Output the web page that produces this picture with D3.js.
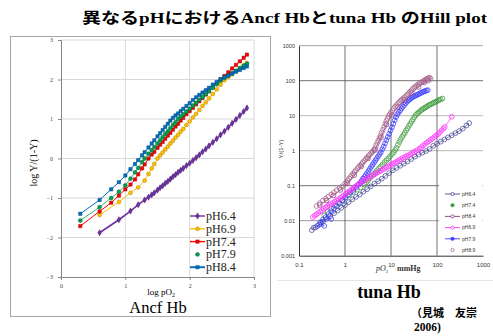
<!DOCTYPE html>
<html>
<head>
<meta charset="utf-8">
<script src="https://cdn.jsdelivr.net/npm/d3@7"></script>
<style>
  body { margin: 0; background: #fff; }
  svg { display: block; }
</style>
</head>
<body>
<div id="chart"></div>
<script>
// ---- Ancf Hb (left panel): log pO2 vs log Y/(1-Y)
var ancfLogPO2 = [0.30,0.60,0.78,0.90,1.00,1.08,1.15,1.20,1.26,1.30,1.36,1.41,1.45,1.50,1.54,1.58,1.62,1.66,1.70,1.74,1.78,1.82,1.86,1.90,1.95,2.00,2.05,2.10,2.15,2.20,2.25,2.30,2.36,2.42,2.48,2.54,2.60,2.66,2.72,2.78,2.84,2.89];
var ancfPH64 = [null,-1.88,null,-1.55,null,-1.33,null,-1.17,null,-1.05,-0.98,-0.92,-0.87,-0.80,-0.74,-0.69,-0.63,-0.58,-0.52,-0.46,-0.41,-0.35,-0.30,-0.25,-0.18,-0.12,-0.05,0.02,0.09,0.17,0.24,0.32,0.41,0.50,0.60,0.69,0.79,0.89,0.99,1.09,1.19,1.28];
var ancfPH69 = [null,-1.43,null,-1.10,null,-0.87,null,-0.73,null,-0.56,-0.39,-0.25,-0.14,0.00,0.08,0.15,0.23,0.30,0.38,0.45,0.53,0.60,0.68,0.75,0.85,0.94,1.04,1.13,1.23,1.33,1.42,1.52,1.63,1.75,1.87,1.98,2.06,2.13,2.21,2.28,2.36,2.42];
var ancfPH74 = [-1.71,-1.34,-1.12,-0.94,-0.78,-0.66,-0.53,-0.40,-0.25,-0.15,0.00,0.10,0.17,0.27,0.35,0.42,0.50,0.58,0.65,0.73,0.81,0.88,0.96,1.03,1.12,1.20,1.28,1.37,1.45,1.53,1.62,1.70,1.80,1.90,2.00,2.09,2.18,2.28,2.37,2.46,2.55,2.63];
var ancfPH79 = [-1.57,-1.23,-1.00,-0.84,-0.68,-0.51,-0.35,-0.24,-0.09,0.00,0.12,0.21,0.29,0.38,0.46,0.54,0.62,0.69,0.77,0.85,0.92,1.00,1.06,1.12,1.19,1.26,1.34,1.41,1.49,1.56,1.63,1.71,1.79,1.88,1.97,2.04,2.10,2.16,2.22,2.29,2.35,2.40];
var ancfPH84 = [-1.40,-1.05,-0.78,-0.60,-0.43,-0.27,-0.14,-0.04,0.08,0.16,0.28,0.38,0.46,0.56,0.64,0.72,0.80,0.88,0.96,1.03,1.09,1.14,1.20,1.26,1.33,1.40,1.48,1.55,1.61,1.67,1.73,1.79,1.87,1.94,2.01,2.06,2.10,2.15,2.20,2.24,2.29,2.33];
var ancfNames = ["pH6.4","pH6.9","pH7.4","pH7.9","pH8.4"];
var ancfTicksX = [0,1,2,3];
var ancfTicksY = [-3,-2,-1,0,1,2,3];

// ---- tuna Hb (right panel): [log10 pO2 (mmHg), log10 Y/(1-Y)]
var tuna64 = [[-0.72,-2.27],[-0.68,-2.20],[-0.64,-2.19],[-0.56,-2.11],[-0.52,-2.04],[-0.48,-2.03],[-0.40,-1.95],[-0.32,-1.87],[-0.24,-1.79],[-0.16,-1.71],[-0.08,-1.63],[0.00,-1.55],[0.08,-1.47],[0.16,-1.39],[0.24,-1.32],[0.32,-1.25],[0.40,-1.17],[0.48,-1.10],[0.56,-1.02],[0.64,-0.94],[0.72,-0.87],[0.80,-0.80],[0.88,-0.72],[0.96,-0.64],[1.04,-0.56],[1.12,-0.49],[1.20,-0.43],[1.28,-0.37],[1.36,-0.31],[1.44,-0.24],[1.52,-0.17],[1.60,-0.11],[1.68,-0.06],[1.76,-0.01],[1.84,0.05],[1.92,0.14],[2.00,0.20],[2.08,0.26],[2.16,0.32],[2.24,0.38],[2.32,0.44],[2.40,0.50],[2.48,0.56],[2.56,0.63],[2.64,0.72],[2.70,0.79]];
var tuna74 = [[-0.45,-1.85],[-0.38,-1.75],[-0.30,-1.65],[-0.22,-1.57],[-0.14,-1.49],[-0.06,-1.41],[0.02,-1.33],[0.10,-1.25],[0.18,-1.18],[0.26,-1.11],[0.34,-1.05],[0.42,-0.97],[0.46,-0.91],[0.50,-0.85],[0.54,-0.79],[0.58,-0.73],[0.62,-0.68],[0.66,-0.62],[0.70,-0.56],[0.74,-0.50],[0.78,-0.45],[0.82,-0.39],[0.86,-0.33],[0.90,-0.27],[0.94,-0.22],[0.98,-0.16],[1.02,-0.10],[1.06,-0.04],[1.09,0.02],[1.12,0.08],[1.15,0.17],[1.18,0.25],[1.21,0.32],[1.24,0.39],[1.27,0.45],[1.30,0.51],[1.33,0.58],[1.36,0.64],[1.39,0.71],[1.42,0.77],[1.45,0.84],[1.48,0.90],[1.51,0.96],[1.54,1.02],[1.57,1.06],[1.60,1.09],[1.63,1.13],[1.66,1.16],[1.69,1.19],[1.72,1.21],[1.75,1.24],[1.78,1.26],[1.81,1.29],[1.84,1.31],[1.87,1.33],[1.90,1.35],[1.93,1.37],[1.96,1.39],[1.99,1.41],[2.02,1.43],[2.05,1.45],[2.08,1.47],[2.12,1.49]];
var tuna84 = [[-0.55,-1.55],[-0.40,-1.42],[-0.25,-1.28],[-0.10,-1.12],[0.05,-0.93],[0.20,-0.70],[0.35,-0.45],[0.50,-0.22],[0.65,0.02],[0.78,0.38],[0.90,0.75],[1.02,1.02],[1.15,1.25],[1.30,1.45],[1.45,1.65],[1.60,1.82],[1.72,1.95],[1.80,2.00]];
var tuna69 = [[-0.70,-1.90],[-0.66,-1.86],[-0.62,-1.82],[-0.58,-1.78],[-0.54,-1.74],[-0.50,-1.70],[-0.46,-1.66],[-0.42,-1.62],[-0.38,-1.59],[-0.34,-1.55],[-0.30,-1.52],[-0.26,-1.49],[-0.22,-1.46],[-0.18,-1.42],[-0.14,-1.39],[-0.10,-1.35],[-0.06,-1.31],[-0.02,-1.27],[0.02,-1.23],[0.06,-1.19],[0.10,-1.15],[0.14,-1.11],[0.18,-1.07],[0.22,-1.03],[0.26,-0.99],[0.30,-0.95],[0.34,-0.92],[0.38,-0.88],[0.42,-0.85],[0.46,-0.81],[0.50,-0.78],[0.54,-0.75],[0.58,-0.72],[0.62,-0.69],[0.66,-0.66],[0.70,-0.63],[0.74,-0.60],[0.78,-0.57],[0.82,-0.54],[0.86,-0.51],[0.90,-0.48],[0.94,-0.45],[0.98,-0.41],[1.02,-0.38],[1.06,-0.36],[1.10,-0.33],[1.14,-0.30],[1.18,-0.27],[1.22,-0.24],[1.26,-0.21],[1.30,-0.18],[1.34,-0.15],[1.38,-0.13],[1.42,-0.10],[1.46,-0.07],[1.50,-0.04],[1.54,-0.01],[1.58,0.02],[1.62,0.06],[1.66,0.10],[1.70,0.15],[1.74,0.19],[1.78,0.23],[1.82,0.27],[1.86,0.31],[1.90,0.35],[1.94,0.39],[1.98,0.43],[2.02,0.47],[2.06,0.52],[2.10,0.58],[2.14,0.63],[2.17,0.68],[2.32,0.97]];
var tuna79 = [[-0.60,-2.15],[-0.45,-2.15],[-0.54,-2.05],[-0.48,-1.97],[-0.30,-1.95],[-0.42,-1.90],[-0.36,-1.81],[-0.30,-1.73],[-0.24,-1.65],[-0.18,-1.58],[-0.12,-1.50],[-0.06,-1.42],[0.00,-1.35],[0.06,-1.27],[0.12,-1.19],[0.18,-1.12],[0.24,-1.05],[0.30,-0.97],[0.33,-0.92],[0.36,-0.86],[0.39,-0.80],[0.42,-0.75],[0.45,-0.70],[0.48,-0.64],[0.51,-0.58],[0.54,-0.52],[0.57,-0.46],[0.60,-0.40],[0.63,-0.34],[0.66,-0.28],[0.69,-0.22],[0.72,-0.16],[0.75,-0.10],[0.78,-0.04],[0.81,0.04],[0.84,0.12],[0.87,0.21],[0.90,0.30],[0.93,0.39],[0.96,0.48],[0.99,0.58],[1.02,0.67],[1.05,0.77],[1.08,0.87],[1.11,0.96],[1.14,1.04],[1.17,1.10],[1.20,1.15],[1.23,1.21],[1.26,1.26],[1.29,1.31],[1.32,1.36],[1.35,1.40],[1.38,1.44],[1.41,1.47],[1.44,1.50],[1.47,1.53],[1.50,1.55],[1.53,1.57],[1.56,1.59],[1.59,1.61],[1.62,1.63],[1.65,1.65],[1.68,1.67],[1.71,1.69],[1.74,1.70],[1.77,1.72],[1.80,1.73]];
var tuna89 = [[-0.62,-1.58],[-0.55,-1.50],[-0.48,-1.42],[-0.42,-1.37],[-0.36,-1.31],[-0.30,-1.25],[-0.24,-1.19],[-0.18,-1.13],[-0.12,-1.07],[-0.06,-1.02],[0.00,-0.94],[0.03,-0.90],[0.06,-0.85],[0.09,-0.80],[0.12,-0.75],[0.15,-0.70],[0.18,-0.65],[0.21,-0.60],[0.24,-0.56],[0.27,-0.51],[0.30,-0.47],[0.33,-0.42],[0.36,-0.38],[0.39,-0.33],[0.42,-0.29],[0.45,-0.24],[0.48,-0.20],[0.51,-0.15],[0.54,-0.11],[0.57,-0.07],[0.60,-0.03],[0.625,0.02],[0.65,0.07],[0.675,0.15],[0.70,0.22],[0.725,0.29],[0.75,0.36],[0.775,0.44],[0.80,0.52],[0.825,0.60],[0.85,0.68],[0.875,0.77],[0.90,0.85],[0.925,0.92],[0.95,0.99],[0.975,1.04],[1.00,1.09],[1.03,1.15],[1.06,1.21],[1.09,1.26],[1.12,1.30],[1.15,1.35],[1.18,1.39],[1.21,1.43],[1.24,1.46],[1.27,1.50],[1.30,1.53],[1.33,1.57],[1.36,1.61],[1.39,1.65],[1.42,1.69],[1.45,1.73],[1.48,1.77],[1.51,1.81],[1.54,1.84],[1.57,1.87],[1.60,1.90],[1.63,1.93],[1.66,1.95],[1.69,1.98],[1.72,2.00],[1.75,2.03],[1.78,2.05],[1.81,2.07],[1.84,2.09],[1.80,2.06],[1.86,2.05]];
var tunaNames = ["pH6.4","pH7.4","pH8.4","pH6.9","pH7.9","pH8.9"];
var tunaTicksX = [0.1,1,10,100,1000];
var tunaTicksY = [0.001,0.01,0.1,1,10,100,1000];

var W = 493, H = 336;
var svg = d3.select("#chart").append("svg")
    .attr("width", W)
    .attr("height", H);

var serif = "'Liberation Serif','DejaVu Serif',serif";
var sans = "'Liberation Sans',Arial,sans-serif";
var cjk = "'Noto Sans CJK JP',sans-serif";

// title
svg.append("text")
  .attr("x", 82)
  .attr("y", 23)
  .attr("textLength", 405)
  .attr("lengthAdjust", "spacingAndGlyphs")
  .style("font-family", serif + "," + cjk)
  .style("font-weight", "bold")
  .style("font-size", "15px")
  .text("異なるpHにおけるAncf Hbとtuna Hb のHill plot");

// ================= left panel =================
svg.append("rect")
  .attr("x", 10.5).attr("y", 36.5)
  .attr("width", 260).attr("height", 280)
  .style("fill", "#fff")
  .style("stroke", "#a6a6a6");

var x = d3.scaleLinear().domain([0, 3]).range([61, 254]);
var y = d3.scaleLinear().domain([-3, 3]).range([277, 40]);

var left = svg.append("g");

left.selectAll(".vgrid")
    .data(ancfTicksX.slice(1))
  .enter().append("line")
    .attr("x1", function(d) { return x(d); })
    .attr("x2", function(d) { return x(d); })
    .attr("y1", y(-3)).attr("y2", y(3))
    .style("stroke", "#d9d9d9");

left.selectAll(".hgrid")
    .data(ancfTicksY.slice(1))
  .enter().append("line")
    .attr("x1", x(0)).attr("x2", x(3))
    .attr("y1", function(d) { return y(d); })
    .attr("y2", function(d) { return y(d); })
    .style("stroke", "#d9d9d9");

left.append("g")
  .attr("transform", "translate(0," + y(-3) + ")")
  .call(d3.axisBottom(x).tickValues(ancfTicksX).tickSize(3).tickFormat(d3.format("d")))
  .call(function(g) {
    g.select(".domain").attr("stroke", "#868686");
    g.selectAll(".tick line").attr("stroke", "#868686");
    g.selectAll(".tick text").attr("dy", "0.9em").style("font-family", serif).style("font-size", "6px").attr("fill", "#444");
  });

left.append("g")
  .attr("transform", "translate(" + x(0) + ",0)")
  .call(d3.axisLeft(y).tickValues(ancfTicksY).tickSize(3).tickFormat(d3.format("d")))
  .call(function(g) {
    g.select(".domain").attr("stroke", "#868686");
    g.selectAll(".tick line").attr("stroke", "#868686");
    g.selectAll(".tick text").attr("x", -8).style("font-family", serif).style("font-size", "6px").attr("fill", "#444");
  });

// axis titles
svg.append("text")
  .attr("transform", "translate(37,163) rotate(-90)")
  .attr("text-anchor", "middle")
  .style("font-family", serif)
  .style("font-size", "10px")
  .text("log Y/(1-Y)");

var xl = svg.append("text")
  .attr("x", 161).attr("y", 295)
  .attr("text-anchor", "middle")
  .style("font-family", serif)
  .style("font-size", "9px");
xl.append("tspan").text("log pO");
xl.append("tspan").attr("dy", 1.5).style("font-size", "6px").text("2");

svg.append("text")
  .attr("x", 158).attr("y", 313)
  .attr("text-anchor", "middle")
  .style("font-family", serif)
  .style("font-size", "16.5px")
  .text("Ancf Hb");

var ancfSeries = [
  {name: ancfNames[0], vals: ancfPH64, color: "#7030a0", edge: "#4b1f6e", shape: "diamond", lw: 1.6},
  {name: ancfNames[1], vals: ancfPH69, color: "#ffc000", edge: "#b08000", shape: "circle", lw: 1},
  {name: ancfNames[2], vals: ancfPH74, color: "#ff0000", edge: "#a00000", shape: "square", lw: 1},
  {name: ancfNames[3], vals: ancfPH79, color: "#00a050", edge: "#006a35", shape: "circle", lw: 0.8},
  {name: ancfNames[4], vals: ancfPH84, color: "#0070c0", edge: "#004a80", shape: "square", lw: 1}
];

var symbolOf = {
  diamond: d3.symbol().type(d3.symbolDiamond).size(11),
  circle: d3.symbol().type(d3.symbolCircle).size(12),
  square: d3.symbol().type(d3.symbolSquare).size(11)
};

var ancfLine = d3.line()
  .x(function(d) { return x(d[0]); })
  .y(function(d) { return y(d[1]); });

ancfSeries.forEach(function(s) {
  var pts = ancfLogPO2.map(function(v, i) { return [v, s.vals[i]]; })
    .filter(function(d) { return d[1] != null; });
  left.append("path")
    .datum(pts)
    .attr("d", ancfLine)
    .style("fill", "none")
    .style("stroke", s.color)
    .style("stroke-width", s.lw);
  left.selectAll(null)
      .data(pts)
    .enter().append("path")
      .attr("transform", function(d) { return "translate(" + x(d[0]) + "," + y(d[1]) + ")"; })
      .attr("d", symbolOf[s.shape])
      .style("fill", s.color)
      .style("stroke", s.edge)
      .style("stroke-width", 0.5);
});

// left legend
var lg = svg.append("g").attr("transform", "translate(190,216)");
ancfSeries.forEach(function(s, i) {
  var row = lg.append("g").attr("transform", "translate(0," + (i * 12.8) + ")");
  if (s.name !== "pH7.9") {
    row.append("line").attr("x1", 0).attr("x2", 15)
      .style("stroke", s.color).style("stroke-width", s.name === "pH8.4" ? 2 : 1.4);
  }
  row.append("path").attr("transform", "translate(7.5,0)")
    .attr("d", symbolOf[s.shape])
    .style("fill", s.color).style("stroke", s.edge).style("stroke-width", 0.5);
  row.append("text").attr("x", 16).attr("y", 4)
    .style("font-family", serif).style("font-size", "12px").attr("fill", "#222")
    .text(s.name);
});

// ================= right panel =================
var xr = d3.scaleLog().domain([0.1, 1000]).range([299, 483]);
var yr = d3.scaleLog().domain([0.001, 1000]).range([255.7, 45.7]);
var right = svg.append("g");

var hShade = {1000: "#8c8c8c", 100: "#4d4d4d", 10: "#a6a6a6", 1: "#a6a6a6", 0.1: "#4d4d4d", 0.01: "#7f7f7f"};
right.selectAll(".rh")
    .data(tunaTicksY.slice(1))
  .enter().append("line")
    .attr("x1", xr(0.1)).attr("x2", xr(1000))
    .attr("y1", function(d) { return yr(d); })
    .attr("y2", function(d) { return yr(d); })
    .style("stroke", function(d) { return hShade[d]; })
    .style("stroke-width", 0.8);

right.selectAll(".rv")
    .data([1, 10, 100])
  .enter().append("line")
    .attr("x1", function(d) { return xr(d); })
    .attr("x2", function(d) { return xr(d); })
    .attr("y1", yr(0.001)).attr("y2", yr(1000))
    .style("stroke", "#4d4d4d")
    .style("stroke-width", 0.8);

right.append("g")
  .attr("transform", "translate(0," + yr(0.001) + ")")
  .call(d3.axisBottom(xr).tickValues(tunaTicksX).tickSize(0).tickFormat(function(d) { return String(d); }))
  .call(function(g) {
    g.select(".domain").attr("stroke", "#333");
    g.selectAll(".tick text").attr("dy", "1.4em").style("font-family", sans).style("font-size", "6px").attr("fill", "#333");
  });

right.append("g")
  .attr("transform", "translate(" + xr(0.1) + ",0)")
  .call(d3.axisLeft(yr).tickValues(tunaTicksY).tickSize(0).tickFormat(function(d) { return String(d); }))
  .call(function(g) {
    g.select(".domain").attr("stroke", "#333");
    g.selectAll(".tick text").attr("x", -4).style("font-family", sans).style("font-size", "5.5px").attr("fill", "#333");
  });

svg.append("text")
  .attr("transform", "translate(283,149) rotate(-90)")
  .attr("text-anchor", "middle")
  .style("font-family", sans)
  .style("font-size", "6px")
  .attr("fill", "#333")
  .text("Y/(1-Y)");

var rx = svg.append("text")
  .attr("x", 376).attr("y", 271)
  .style("font-family", serif)
  .style("font-size", "8px")
  .attr("fill", "#333");
rx.append("tspan").style("font-style", "italic").text("pO");
rx.append("tspan").attr("dy", 1.5).style("font-size", "5px").text("2");
rx.append("tspan").attr("dy", -1.5).attr("x", 397).style("font-weight", "bold").text("mmHg");

svg.append("line")
  .attr("x1", 277).attr("x2", 493)
  .attr("y1", 280.5).attr("y2", 280.5)
  .style("stroke", "#e6e6e6");

svg.append("text")
  .attr("x", 389).attr("y", 298)
  .attr("text-anchor", "middle")
  .style("font-family", serif)
  .style("font-weight", "bold")
  .style("font-size", "18px")
  .text("tuna Hb");

svg.append("text")
  .attr("x", 411).attr("y", 317)
  .style("font-family", cjk)
  .style("font-weight", "bold")
  .style("font-size", "11px")
  .text("（見城　友崇");

svg.append("text")
  .attr("x", 414).attr("y", 331)
  .style("font-family", serif)
  .style("font-weight", "bold")
  .style("font-size", "11.5px")
  .text("2006)");

var tunaSeries = [
  {name: tunaNames[0], pts: tuna64, color: "#4b4b96", line: true},
  {name: tunaNames[1], pts: tuna74, color: "#3c9a3c", line: false},
  {name: tunaNames[4], pts: tuna79, color: "#3a3aff", line: true},
  {name: tunaNames[3], pts: tuna69, color: "#ff33ff", line: true},
  {name: tunaNames[2], pts: tuna84, color: "#8a3a8a", line: true},
  {name: tunaNames[5], pts: tuna89, color: "#a8668c", line: false}
];

var tunaLine = d3.line()
  .x(function(d) { return xr(Math.pow(10, d[0])); })
  .y(function(d) { return yr(Math.pow(10, d[1])); });

tunaSeries.forEach(function(s) {
  if (s.line) {
    right.append("path")
      .datum(s.pts)
      .attr("d", tunaLine)
      .style("fill", "none")
      .style("stroke", s.color)
      .style("stroke-width", 0.7);
  }
  right.selectAll(null)
      .data(s.pts)
    .enter().append("circle")
      .attr("cx", function(d) { return xr(Math.pow(10, d[0])); })
      .attr("cy", function(d) { return yr(Math.pow(10, d[1])); })
      .attr("r", 2.4)
      .style("fill", "none")
      .style("stroke", s.color)
      .style("stroke-width", 0.75);
});

// right legend
var rlg = svg.append("g");
rlg.append("rect")
  .attr("x", 439).attr("y", 185)
  .attr("width", 43.5).attr("height", 70)
  .style("fill", "#fff");
var legendOrder = ["pH6.4","pH7.4","pH8.4","pH6.9","pH7.9","pH8.9"];
legendOrder.forEach(function(n, i) {
  var s = tunaSeries.filter(function(t) { return t.name === n; })[0];
  var row = rlg.append("g").attr("transform", "translate(445," + (194 + i * 11.2) + ")");
  if (s.line) {
    row.append("line").attr("x1", 0).attr("x2", 15)
      .style("stroke", s.color).style("stroke-width", 0.9);
  }
  row.append("circle").attr("cx", 7.5).attr("cy", 0).attr("r", 1.6)
    .style("fill", n === "pH7.4" || n === "pH7.9" ? s.color : "#fff")
    .style("stroke", s.color).style("stroke-width", 0.8);
  row.append("text").attr("x", 17).attr("y", 1.8)
    .style("font-family", sans).style("font-size", "5px").attr("fill", "#333")
    .text(n);
});
</script>
</body>
</html>
